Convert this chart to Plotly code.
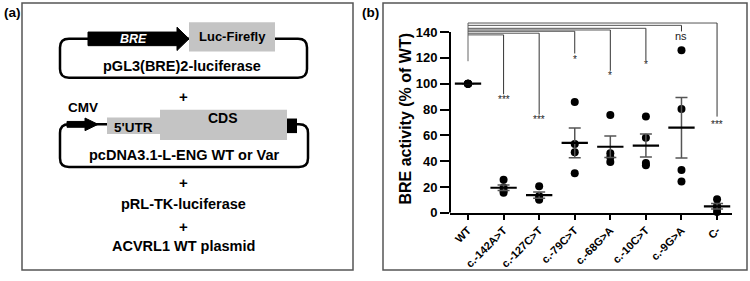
import numpy as np
import plotly.graph_objects as go

# ---------------- data ----------------
categories = ["WT", "c.-142A>T", "c.-127C>T", "c.-79C>T", "c.-68G>A", "c.-10C>T", "c.-9G>A", "C-"]
replicates = [
    [100, 100, 100, 100],
    [25.5, 19.5, 17.0, 15.5],
    [20.5, 13.0, 11.0, 10.0],
    [85.8, 53.2, 46.9, 30.6],
    [75.8, 46.2, 43.1, 39.4],
    [74.5, 58.2, 38.6, 36.9],
    [125.9, 80.3, 33.1, 24.3],
    [10.5, 5.5, 3.5, 0.5],
]
y_ticks = [0, 20, 40, 60, 80, 100, 120, 140]

# significance vs WT
sig_targets = ["c.-142A>T", "c.-127C>T", "c.-79C>T", "c.-68G>A", "c.-10C>T", "c.-9G>A", "C-"]
sig_labels = ["***", "***", "*", "*", "*", "ns", "***"]
sig_bar_level = [137.8, 139.1, 140.6, 141.6, 142.9, 145.2, 147.0]
sig_drop_end = [91.8, 76.0, 123.4, 110.0, 118.0, 140.5, 74.5]
sig_label_y = [88.0, 72.0, 118.5, 106.0, 115.0, 137.0, 68.5]
wt_stem_bottom = 117.4

FONT = "Liberation Sans, Arial, sans-serif"
W, H = 750, 281


def X(px):
    return px / W


def Y(py):
    return 1 - py / H


idx = list(range(len(categories)))
means = [float(np.mean(v)) for v in replicates]
sems = [float(np.std(v, ddof=1) / np.sqrt(len(v))) for v in replicates]

fig = go.Figure()

# points
px_, py_ = [], []
for i, vals in enumerate(replicates):
    for v in vals:
        px_.append(i)
        py_.append(v)
fig.add_trace(go.Scatter(x=px_, y=py_, mode="markers",
                         marker=dict(color="black", size=8),
                         cliponaxis=False, showlegend=False, hoverinfo="skip"))

# error bars (SEM)
fig.add_trace(go.Scatter(x=idx, y=means, mode="markers",
                         marker=dict(size=0.1, color="rgba(0,0,0,0)"),
                         error_y=dict(type="data", array=sems, visible=True,
                                      color="#555555", thickness=1.5, width=6),
                         cliponaxis=False, showlegend=False, hoverinfo="skip"))

# mean lines
mx, my = [], []
for i, m in enumerate(means):
    mx += [i - 0.37, i + 0.37, None]
    my += [m, m, None]
fig.add_trace(go.Scatter(x=mx, y=my, mode="lines", line=dict(color="black", width=2.2),
                         cliponaxis=False, showlegend=False, hoverinfo="skip"))

shapes = []
annotations = []

# y axis line (0..140)
shapes.append(dict(type="line", xref="x domain", yref="y", x0=0, x1=0,
                   y0=0, y1=max(y_ticks), line=dict(color="black", width=2)))

# significance brackets
wt_i = categories.index("WT")
shapes.append(dict(type="line", xref="x", yref="y", x0=wt_i, x1=wt_i,
                   y0=wt_stem_bottom, y1=max(sig_bar_level),
                   line=dict(color="#666666", width=1)))
for tgt, lab, lvl, dend, ly in zip(sig_targets, sig_labels, sig_bar_level, sig_drop_end, sig_label_y):
    ti = categories.index(tgt)
    shapes.append(dict(type="line", xref="x", yref="y", x0=wt_i, x1=ti, y0=lvl, y1=lvl,
                       line=dict(color="#555555", width=1)))
    shapes.append(dict(type="line", xref="x", yref="y", x0=ti, x1=ti, y0=lvl, y1=dend,
                       line=dict(color="#333333", width=1)))
    annotations.append(dict(x=ti, y=ly, xref="x", yref="y", text=lab, showarrow=False,
                            font=dict(family=FONT, size=11 if lab == "ns" else 10, color="#222222")))

# y axis title
annotations.append(dict(x=X(406), y=Y(122), xref="paper", yref="paper",
                        text="BRE activity (% of WT)", textangle=-90, showarrow=False,
                        font=dict(family=FONT, size=16, color="black", weight="bold")))

# panel frames
frame = dict(color="#555555", width=1.5)
shapes.append(dict(type="rect", xref="paper", yref="paper", x0=X(22), x1=X(353), y0=Y(278), y1=Y(3),
                   line=frame, fillcolor="rgba(0,0,0,0)"))
shapes.append(dict(type="rect", xref="paper", yref="paper", x0=X(383), x1=X(747), y0=Y(278), y1=Y(3),
                   line=frame, fillcolor="rgba(0,0,0,0)"))


def rrect(x0, y0, x1, y1, r):
    rx, ry = r, r
    pts = [
        f"M {X(x0 + rx)},{Y(y0)}",
        f"L {X(x1 - rx)},{Y(y0)}",
        f"Q {X(x1)},{Y(y0)} {X(x1)},{Y(y0 + ry)}",
        f"L {X(x1)},{Y(y1 - ry)}",
        f"Q {X(x1)},{Y(y1)} {X(x1 - rx)},{Y(y1)}",
        f"L {X(x0 + rx)},{Y(y1)}",
        f"Q {X(x0)},{Y(y1)} {X(x0)},{Y(y1 - ry)}",
        f"L {X(x0)},{Y(y0 + ry)}",
        f"Q {X(x0)},{Y(y0)} {X(x0 + rx)},{Y(y0)}",
    ]
    return " ".join(pts)


def poly(points):
    s = "M " + " L ".join(f"{X(a)},{Y(b)}" for a, b in points) + " Z"
    return s


GRAY = "#c4c4c4"
# plasmid 1
shapes.append(dict(type="path", xref="paper", yref="paper", path=rrect(60, 40, 307, 80, 9),
                   line=dict(color="black", width=2.5)))
shapes.append(dict(type="path", xref="paper", yref="paper",
                   path=poly([(88, 33), (177, 33), (177, 28), (189, 40), (177, 52), (177, 47), (88, 47)]),
                   fillcolor="black", line=dict(color="black", width=1)))
shapes.append(dict(type="rect", xref="paper", yref="paper", x0=X(189), x1=X(275), y0=Y(53), y1=Y(23),
                   fillcolor=GRAY, line=dict(width=0)))
# plasmid 2
shapes.append(dict(type="path", xref="paper", yref="paper", path=rrect(60, 128, 308, 172, 9),
                   line=dict(color="black", width=2.5)))
shapes.append(dict(type="path", xref="paper", yref="paper",
                   path=poly([(67, 125), (85, 125), (85, 121.5), (98, 128), (85, 134.5), (85, 131), (67, 131)]),
                   fillcolor="black", line=dict(color="black", width=1)))
shapes.append(dict(type="rect", xref="paper", yref="paper", x0=X(107), x1=X(160), y0=Y(138), y1=Y(121),
                   fillcolor=GRAY, line=dict(width=0)))
shapes.append(dict(type="rect", xref="paper", yref="paper", x0=X(160), x1=X(287), y0=Y(144), y1=Y(113),
                   fillcolor=GRAY, line=dict(width=0)))
shapes.append(dict(type="rect", xref="paper", yref="paper", x0=X(287), x1=X(297), y0=Y(137), y1=Y(122),
                   fillcolor="black", line=dict(width=0)))


def txt(x, y, s, size=14, color="black", italic=False):
    annotations.append(dict(x=X(x), y=Y(y), xref="paper", yref="paper", text=s, showarrow=False,
                            xanchor="center", yanchor="middle",
                            font=dict(family=FONT, size=size, color=color, weight="bold",
                                      style="italic" if italic else "normal")))


txt(12, 13, "(a)", 13.5)
txt(370, 13, "(b)", 13.5)
txt(133, 40, "BRE", 12.5, color="white", italic=True)
txt(232, 38, "Luc-Firefly", 13)
txt(182, 68, "pGL3(BRE)2-luciferase", 14.5)
txt(183, 99, "+", 15)
txt(83, 111, "CMV", 13.5)
txt(133, 131, "5'UTR", 13.5)
txt(223, 121, "CDS", 14)
txt(184, 160, "pcDNA3.1-L-ENG WT or Var", 14.5)
txt(183, 188, "+", 15)
txt(183, 210, "pRL-TK-luciferase", 14.5)
txt(183, 233, "+", 15)
txt(183, 253, "ACVRL1 WT plasmid", 14.5)

fig.update_layout(
    width=W, height=H,
    margin=dict(l=0, r=0, t=0, b=0),
    paper_bgcolor="white", plot_bgcolor="white",
    showlegend=False,
    shapes=shapes,
    annotations=annotations,
    xaxis=dict(domain=[X(450), X(732)], range=[-0.506, 7.42],
               tickmode="array", tickvals=idx, ticktext=categories,
               tickangle=-45, ticks="outside", ticklen=5, tickwidth=2, tickcolor="black",
               showline=True, linecolor="black", linewidth=2, showgrid=False, zeroline=False,
               tickfont=dict(family=FONT, size=11, color="black", weight="bold")),
    yaxis=dict(domain=[Y(219), Y(219 - 150 * 186 / 140)], range=[0, 150],
               tickmode="array", tickvals=y_ticks, ticktext=[str(t) for t in y_ticks],
               ticks="outside", ticklen=9, tickwidth=2, tickcolor="black",
               showline=False, showgrid=False, zeroline=False,
               tickfont=dict(family=FONT, size=13, color="black", weight="bold")),
)

fig.write_html("out.html", config={"displayModeBar": False},
               post_script="document.body.style.margin='0';document.body.style.overflow='hidden';")
